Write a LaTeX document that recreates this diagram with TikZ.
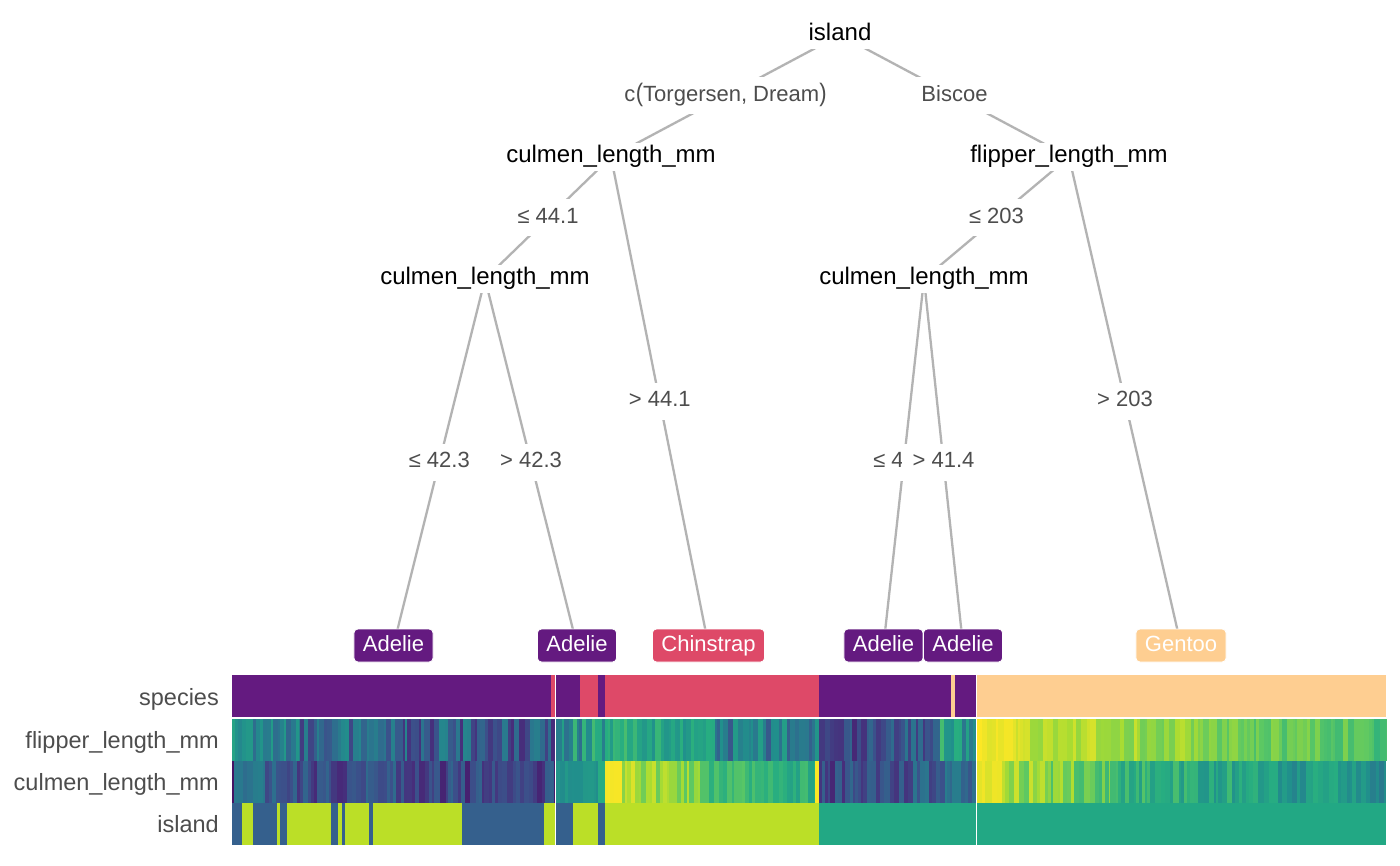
\documentclass[tikz,border=0pt]{standalone}
\usepackage{fontspec}
\setmainfont{Liberation Sans}
\pgfdeclarelayer{bgl}
\pgfdeclarelayer{edges}
\pgfsetlayers{bgl,edges,main}
\definecolor{edgegray}{HTML}{B3B3B3}
\definecolor{labgray}{HTML}{4D4D4D}
\definecolor{adelie}{HTML}{641A80}
\definecolor{chinstrap}{HTML}{DE4968}
\definecolor{gentoo}{HTML}{FECE91}
\definecolor{isA}{HTML}{35608D}
\definecolor{isB}{HTML}{BBDF27}
\definecolor{isC}{HTML}{22A884}
\definecolor{vir0}{HTML}{440154}
\definecolor{vir1}{HTML}{472D7B}
\definecolor{vir2}{HTML}{3B528B}
\definecolor{vir3}{HTML}{2C728E}
\definecolor{vir4}{HTML}{21908C}
\definecolor{vir5}{HTML}{27AD81}
\definecolor{vir6}{HTML}{5DC863}
\definecolor{vir7}{HTML}{AADC32}
\definecolor{vir8}{HTML}{FDE725}
\newcommand\setvir[1]{%
  \pgfmathsetmacro\hmQ{max(0,min(0.9999,#1))*8}%
  \pgfmathtruncatemacro\hmI{floor(\hmQ)}%
  \pgfmathtruncatemacro\hmJ{\hmI+1}%
  \pgfmathsetmacro\hmP{100*(1-(\hmQ-\hmI))}%
  \colorlet{vc}{vir\hmI!\hmP!vir\hmJ}%
}
\newcommand\hmrow[7]{%
  \def\hmx{#3}%
  \loop
    \pgfmathsetmacro\hmw{2+4*rnd}%
    \pgfmathsetmacro\hmxb{min(\hmx+\hmw,#4)}%
    \pgfmathsetmacro\hmxc{min(\hmxb+0.5,#4)}%
    \pgfmathsetmacro\hmt{(\hmx-#3)/(#4-#3)}%
    \pgfmathsetmacro\hmv{#5+(#6-#5)*\hmt+#7*rand}%
    \setvir{\hmv}%
    \fill[vc] (\hmx,#1) rectangle (\hmxc,#2);%
    \let\hmx\hmxb
  \ifdim\hmx pt<#4pt \repeat
}
\tikzset{
  edge/.style={draw=edgegray, line width=2.3pt},
  inner/.style={fill=white, text=black, font=\fontsize{24}{28}\selectfont,
    inner xsep=3pt, inner ysep=3pt, text height=17pt, text depth=5pt},
  elab/.style={fill=white, text=labgray, font=\fontsize{22}{26}\selectfont,
    inner xsep=11pt, inner ysep=8pt, text height=16pt, text depth=5pt},
  leaf/.style={rounded corners=4pt, draw=white, line width=0.8pt, text=white,
    font=\fontsize{22}{26}\selectfont, inner xsep=9pt, inner ysep=6pt,
    text height=16pt, text depth=5pt},
  rowlab/.style={anchor=base east, text=labgray, font=\fontsize{23.5}{28}\selectfont, inner sep=0pt},
}
\begin{document}
\begin{tikzpicture}[x=1pt,y=-1pt]
\pgfmathsetseed{4242}
\begin{pgfonlayer}{bgl}
\fill[white] (0,0) rectangle (1400,866);
\end{pgfonlayer}
\useasboundingbox (0,0) rectangle (1400,866);
% tree nodes
\node[inner] (n1) at (840,35) {island};
\node[inner] (n2) at (611,157) {culmen\_length\_mm};
\node[inner] (n3) at (485,279) {culmen\_length\_mm};
\node[inner] (n7) at (1069,157) {flipper\_length\_mm};
\node[inner] (n8) at (924,279) {culmen\_length\_mm};
\node[leaf, fill=adelie] (l4) at (393.5,645.5) {Adelie};
\node[leaf, fill=adelie] (l5) at (577,645.5) {Adelie};
\node[leaf, fill=chinstrap] (l6) at (708.5,645.5) {Chinstrap};
\node[leaf, fill=adelie] (l9) at (883.5,645.5) {Adelie};
\node[leaf, fill=adelie] (l10) at (963,645.5) {Adelie};
\node[leaf, fill=gentoo] (l11) at (1181,645.5) {Gentoo};
% edges
\begin{pgfonlayer}{edges}
\draw[edge] (n1.center) -- (n2.center);
\draw[edge] (n1.center) -- (n7.center);
\draw[edge] (n2.center) -- (n3.center);
\draw[edge] (n2.center) -- (l6.center);
\draw[edge] (n3.center) -- (l4.center);
\draw[edge] (n3.center) -- (l5.center);
\draw[edge] (n7.center) -- (n8.center);
\draw[edge] (n7.center) -- (l11.center);
\draw[edge] (n8.center) -- (l9.center);
\draw[edge] (n8.center) -- (l10.center);
\end{pgfonlayer}
% edge labels
\path (n1.center) -- (n2.center) node[midway, elab] {c\kern0.5pt\raisebox{-0.5pt}{\scalebox{1}[1.15]{(}}Torgersen, Dream\raisebox{-0.5pt}{\scalebox{1}[1.15]{)}}};
\path (n1.center) -- (n7.center) node[midway, elab] {Biscoe};
\path (n2.center) -- (n3.center) node[midway, elab] {≤ 44.1};
\path (n2.center) -- (l6.center) node[midway, elab] {> 44.1};
\path (n3.center) -- (l4.center) node[midway, elab] {≤ 42.3};
\path (n3.center) -- (l5.center) node[midway, elab] {> 42.3};
\path (n7.center) -- (n8.center) node[midway, elab] {≤ 203};
\path (n7.center) -- (l11.center) node[midway, elab] {> 203};
\path (n8.center) -- (l9.center) node[midway, elab] {≤ 41.4};
\path (n8.center) -- (l10.center) node[midway, elab] {> 41.4};
% heatmap: species
\foreach \a/\b/\c in {232/551/adelie, 551/555/chinstrap, 556/580/adelie, 580/598/chinstrap,
  598/605/adelie, 605/819/chinstrap, 819/951/adelie, 951/955/gentoo, 955/976/adelie, 977/1386/gentoo}
  \fill[\c] (\a,675) rectangle (\b,717);
% island
\foreach \a/\b/\c in {232/242/isA, 242/253/isB, 253/277/isA, 277/280/isB, 280/287/isA, 287/331/isB,
  331/338/isA, 338/342/isB, 342/345/isA, 345/369/isB, 369/373/isA, 373/462/isB, 462/544/isA,
  544/555/isB, 556/573/isA, 573/598/isB, 598/605/isA, 605/819/isB, 819/976/isC, 977/1386/isC}
  \fill[\c] (\a,803) rectangle (\b,845);
% flipper_length_mm
\hmrow{719}{761}{232}{300}{0.5}{0.42}{0.13}
\hmrow{719}{761}{300}{555}{0.33}{0.27}{0.17}
\hmrow{719}{761}{556}{605}{0.5}{0.55}{0.17}
\hmrow{719}{761}{605}{715}{0.63}{0.55}{0.09}
\hmrow{719}{761}{715}{819}{0.42}{0.4}{0.15}
\hmrow{719}{761}{819}{940}{0.22}{0.3}{0.14}
\hmrow{719}{761}{940}{976}{0.6}{0.45}{0.12}
\hmrow{719}{761}{977}{1030}{0.98}{0.94}{0.03}
\hmrow{719}{761}{1030}{1200}{0.9}{0.82}{0.07}
\hmrow{719}{761}{1200}{1386}{0.8}{0.72}{0.07}
% culmen_length_mm
\hmrow{761}{803}{232}{234}{0.05}{0.05}{0}
\hmrow{761}{803}{234}{265}{0.4}{0.38}{0.05}
\hmrow{761}{803}{265}{555}{0.25}{0.18}{0.13}
\hmrow{761}{803}{556}{598}{0.5}{0.52}{0.04}
\hmrow{761}{803}{598}{605}{0.62}{0.62}{0}
\hmrow{761}{803}{605}{622}{0.99}{0.99}{0.01}
\hmrow{761}{803}{622}{700}{0.88}{0.8}{0.08}
\hmrow{761}{803}{700}{815}{0.7}{0.62}{0.07}
\hmrow{761}{803}{815}{819}{1}{1}{0}
\hmrow{761}{803}{819}{976}{0.2}{0.33}{0.12}
\hmrow{761}{803}{977}{1002}{0.97}{0.97}{0.03}
\hmrow{761}{803}{1002}{1110}{0.86}{0.75}{0.1}
\hmrow{761}{803}{1110}{1386}{0.65}{0.5}{0.1}
% separators
\fill[white] (554.8,675) rectangle (556.2,845);
\fill[white] (975.6,675) rectangle (977,845);
% row labels
\node[rowlab] (r1) at (219,705) {species};
\node[rowlab] (r2) at (219,748) {flipper\_length\_mm};
\node[rowlab] (r3) at (219,790) {culmen\_length\_mm};
\node[rowlab] (r4) at (219,832) {island};
\end{tikzpicture}
\end{document}
